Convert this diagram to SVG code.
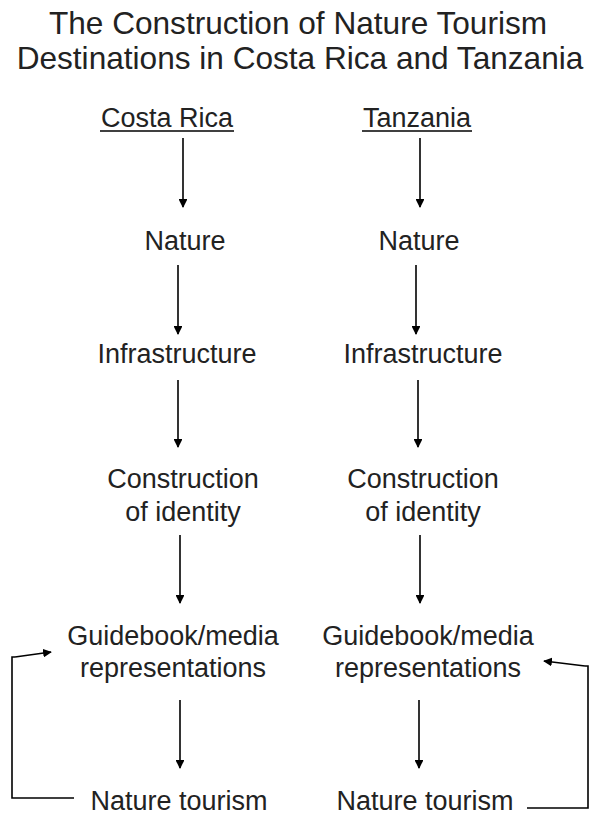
<svg xmlns="http://www.w3.org/2000/svg" width="594" height="817" viewBox="0 0 594 817">
<defs>
<marker id="ah" viewBox="0 0 10 10" refX="9" refY="5" markerWidth="5.5" markerHeight="5.5" orient="auto" markerUnits="strokeWidth">
<path d="M0,0 L10,5 L0,10 z" fill="#000"/>
</marker>
<style>
text{font-family:"Liberation Sans",Arial,sans-serif;fill:#222;text-anchor:middle}
.t{font-size:31.6px}
.n{font-size:27px}
.c{stroke:#000;stroke-width:1.6;fill:none;marker-end:url(#ah)}
.p{stroke:#000;stroke-width:1.6;fill:none}
</style>
</defs>
<rect width="594" height="817" fill="#fff"/>
<g id="title">
<text class="t" x="298" y="34">The Construction of Nature Tourism</text>
<text class="t" x="300" y="69">Destinations in Costa Rica and Tanzania</text>
</g>
<g id="cr-head"><text class="n" x="167" y="127">Costa Rica</text><line x1="100" y1="131" x2="234" y2="131" class="p"/></g>
<g id="tz-head"><text class="n" x="417" y="127">Tanzania</text><line x1="362" y1="131" x2="472" y2="131" class="p"/></g>
<g id="cr-nature"><text class="n" x="185" y="250">Nature</text></g>
<g id="tz-nature"><text class="n" x="419" y="250">Nature</text></g>
<g id="cr-infra"><text class="n" x="177" y="363">Infrastructure</text></g>
<g id="tz-infra"><text class="n" x="423" y="363">Infrastructure</text></g>
<g id="cr-identity"><text class="n" x="183" y="488">Construction</text><text class="n" x="183" y="521">of identity</text></g>
<g id="tz-identity"><text class="n" x="423" y="488">Construction</text><text class="n" x="423" y="521">of identity</text></g>
<g id="cr-media"><text class="n" x="173" y="645">Guidebook/media</text><text class="n" x="173" y="677">representations</text></g>
<g id="tz-media"><text class="n" x="428" y="645">Guidebook/media</text><text class="n" x="428" y="677">representations</text></g>
<g id="cr-tourism"><text class="n" x="179" y="810">Nature tourism</text></g>
<g id="tz-tourism"><text class="n" x="425" y="810">Nature tourism</text></g>
<g id="connectors">
<line class="c" x1="183" y1="138" x2="183" y2="207"/>
<line class="c" x1="178" y1="265" x2="178" y2="334"/>
<line class="c" x1="178" y1="380" x2="178" y2="447"/>
<line class="c" x1="180" y1="535" x2="180" y2="603"/>
<line class="c" x1="180" y1="700" x2="180" y2="768"/>
<line class="c" x1="420" y1="138" x2="420" y2="207"/>
<line class="c" x1="416" y1="265" x2="416" y2="334"/>
<line class="c" x1="418" y1="380" x2="418" y2="447"/>
<line class="c" x1="420" y1="535" x2="420" y2="603"/>
<line class="c" x1="419" y1="700" x2="419" y2="768"/>
<polyline class="p" points="74,798 12,798 12,657 15,657"/>
<line class="c" x1="15" y1="657" x2="51" y2="652"/>
<polyline class="p" points="527,808 588,808 588,666 585,666"/>
<line class="c" x1="585" y1="666" x2="544" y2="661"/>
</g>
</svg>
